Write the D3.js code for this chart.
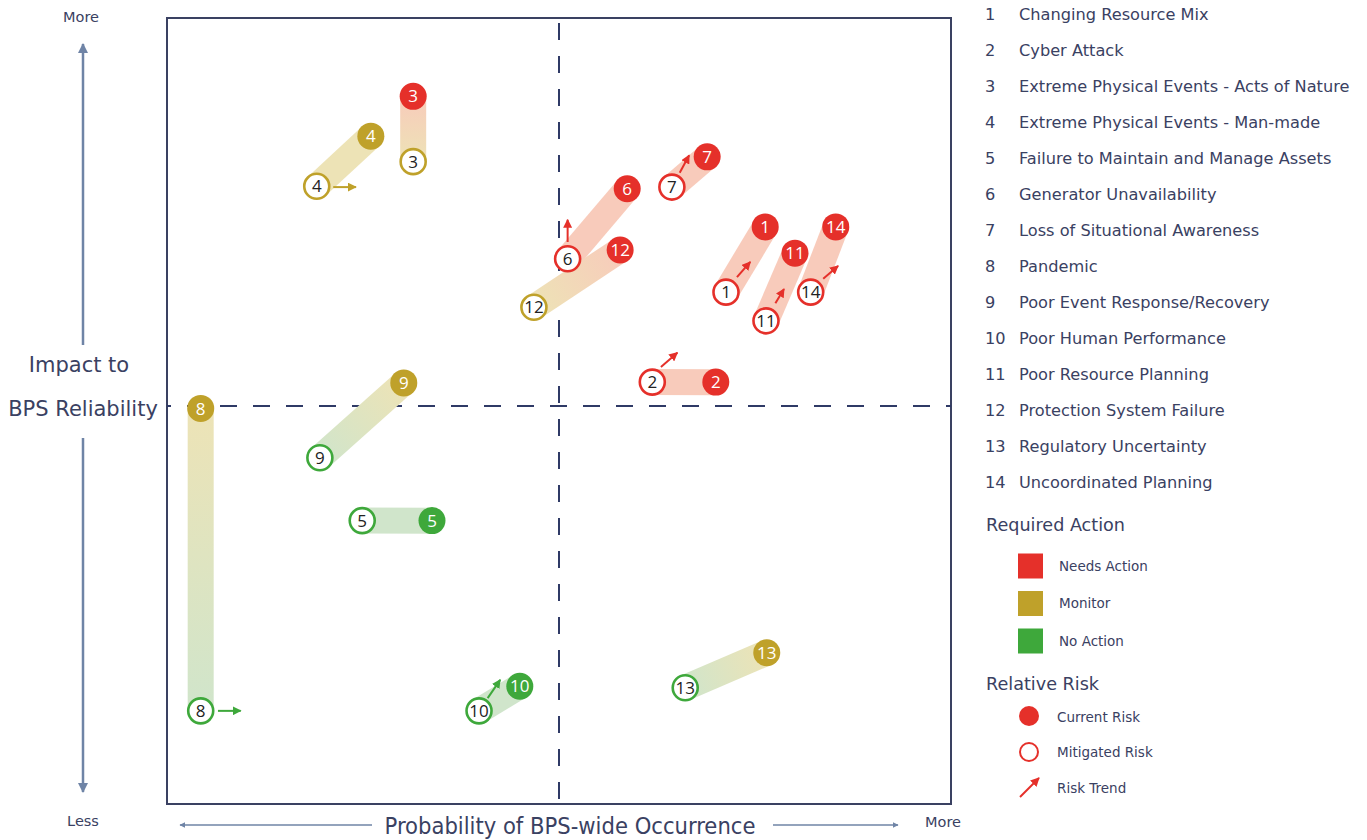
<!DOCTYPE html>
<html><head><meta charset="utf-8">
<script src="https://cdn.jsdelivr.net/npm/d3@7"></script>
<style>body{margin:0;background:#fff}svg{display:block}</style>
</head><body>
<svg id="c" width="1367" height="840"></svg>
<script>
// ---- data ----
const ids = [1,2,3,4,5,6,7,8,9,10,11,12,13,14];
const names = ["Changing Resource Mix","Cyber Attack","Extreme Physical Events - Acts of Nature","Extreme Physical Events - Man-made","Failure to Maintain and Manage Assets","Generator Unavailability","Loss of Situational Awareness","Pandemic","Poor Event Response/Recovery","Poor Human Performance","Poor Resource Planning","Protection System Failure","Regulatory Uncertainty","Uncoordinated Planning"];
const curX = [7.63,7.00,3.14,2.60,3.38,5.87,6.89,0.43,3.02,4.50,8.01,5.78,7.65,8.53];
const curY = [7.25,5.30,8.89,8.39,3.56,7.73,8.13,4.97,5.29,1.48,6.92,6.96,1.90,7.25];
const mitX = [7.13,6.19,3.14,1.91,2.49,5.11,6.44,0.43,1.95,3.98,7.64,4.68,6.61,8.21];
const mitY = [6.43,5.30,8.07,7.76,3.56,6.85,7.75,1.17,4.35,1.17,6.07,6.24,1.46,6.43];
const curAction = ["N","N","N","M","A","N","N","M","M","A","N","N","M","N"];
const mitAction = ["N","N","M","M","A","N","N","A","A","A","N","M","A","N"];
const trendX0 = [7.27,6.30,null,2.12,null,5.11,6.54,0.65,null,4.09,7.76,null,null,8.37];
const trendY0 = [6.62,5.49,null,7.75,null,7.06,7.93,1.17,null,1.33,6.29,null,null,6.60];
const trendX1 = [7.44,6.51,null,2.41,null,5.11,6.66,0.94,null,4.25,7.87,null,null,8.56];
const trendY1 = [6.81,5.67,null,7.75,null,7.34,8.15,1.17,null,1.56,6.47,null,null,6.76];
const actionKeys = ["N","M","A"];
const actionLabels = ["Needs Action","Monitor","No Action"];
const riskLabels = ["Current Risk","Mitigated Risk","Risk Trend"];

// ---- styles ----
const col = {N:"#e5302a", M:"#bfa12a", A:"#3ea83b"};
const light = {N:"#f8cbbb", M:"#ede3b6", A:"#d0e5cb"};
const navy = "#3a4162";
const slate = "#6f84a6";
const svg = d3.select("#c");
const font = "DejaVu Sans, Verdana, sans-serif";

const x = d3.scaleLinear().domain([0,10]).range([167,951]);
const y = d3.scaleLinear().domain([0,10]).range([804,8]);
const frameTop = 18;

const defs = svg.append("defs");
["N","M","A"].forEach(k=>{
  defs.append("marker").attr("id","ah"+k).attr("viewBox","0 0 10 10").attr("refX",9).attr("refY",5)
    .attr("markerWidth",4.5).attr("markerHeight",4.5).attr("orient","auto")
    .append("path").attr("d","M0,0L10,5L0,10z").attr("fill",col[k]);
});
defs.append("marker").attr("id","ahS").attr("viewBox","0 0 10 10").attr("refX",9).attr("refY",5)
  .attr("markerWidth",4).attr("markerHeight",4).attr("orient","auto")
  .append("path").attr("d","M0,0L10,5L0,10z").attr("fill",slate);

// frame
svg.append("rect").attr("x",x(0)).attr("y",frameTop).attr("width",x(10)-x(0)).attr("height",y(0)-frameTop)
  .attr("fill","none").attr("stroke",navy).attr("stroke-width",2);
// quadrant lines
svg.append("line").attr("x1",x(5)).attr("x2",x(5)).attr("y1",frameTop+5).attr("y2",y(0))
  .attr("stroke","#2f3a66").attr("stroke-width",2).attr("stroke-dasharray","17,16");
svg.append("line").attr("x1",x(0)).attr("x2",x(10)).attr("y1",y(5)).attr("y2",y(5))
  .attr("stroke","#2f3a66").attr("stroke-width",2).attr("stroke-dasharray","17,16").attr("stroke-dashoffset",-20);

// axis annotations
const ax = 83;
svg.append("line").attr("x1",ax).attr("x2",ax).attr("y1",345).attr("y2",44).attr("stroke",slate).attr("stroke-width",2.5).attr("marker-end","url(#ahS)");
svg.append("line").attr("x1",ax).attr("x2",ax).attr("y1",438).attr("y2",792).attr("stroke",slate).attr("stroke-width",2.5).attr("marker-end","url(#ahS)");
svg.append("text").attr("x",81).attr("y",22).attr("text-anchor","middle").attr("font-family",font).attr("font-size",14.5).attr("fill",navy).text("More");
svg.append("text").attr("x",83).attr("y",826).attr("text-anchor","middle").attr("font-family",font).attr("font-size",14.5).attr("fill",navy).text("Less");
svg.append("text").attr("x",79).attr("y",372).attr("text-anchor","middle").attr("font-family",font).attr("font-size",21).attr("fill",navy).text("Impact to");
svg.append("text").attr("x",83).attr("y",416).attr("text-anchor","middle").attr("font-family",font).attr("font-size",21).attr("fill",navy).text("BPS Reliability");
svg.append("line").attr("x1",372).attr("x2",180).attr("y1",825).attr("y2",825).attr("stroke",slate).attr("stroke-width",1.5).attr("marker-end","url(#ahS)");
svg.append("line").attr("x1",773).attr("x2",898).attr("y1",825).attr("y2",825).attr("stroke",slate).attr("stroke-width",1.5).attr("marker-end","url(#ahS)");
svg.append("text").attr("x",570).attr("y",834).attr("text-anchor","middle").attr("font-family","DejaVu Sans Condensed, "+font).attr("font-size",23.5).attr("fill",navy).text("Probability of BPS-wide Occurrence");
svg.append("text").attr("x",943).attr("y",827).attr("text-anchor","middle").attr("font-family",font).attr("font-size",14.5).attr("fill",navy).text("More");

// bands with gradients
const idx = d3.range(ids.length);
idx.forEach(i=>{
  const g = defs.append("linearGradient").attr("id","g"+i).attr("gradientUnits","userSpaceOnUse")
    .attr("x1",x(mitX[i])).attr("y1",y(mitY[i])).attr("x2",x(curX[i])).attr("y2",y(curY[i]));
  g.append("stop").attr("offset","0").attr("stop-color",light[mitAction[i]]);
  g.append("stop").attr("offset","1").attr("stop-color",light[curAction[i]]);
});
svg.append("g").selectAll("line").data(idx).join("line")
  .attr("x1",i=>x(mitX[i])).attr("y1",i=>y(mitY[i]))
  .attr("x2",i=>x(curX[i])+(mitX[i]===curX[i]?0.01:0)).attr("y2",i=>y(curY[i])+(mitY[i]===curY[i]?0.01:0))
  .attr("stroke",i=>"url(#g"+i+")").attr("stroke-width",26);

// trend arrows
const tIdx = idx.filter(i=>trendX0[i]!==null);
svg.append("g").selectAll("line").data(tIdx).join("line")
  .attr("x1",i=>x(trendX0[i])).attr("y1",i=>y(trendY0[i])).attr("x2",i=>x(trendX1[i])).attr("y2",i=>y(trendY1[i]))
  .attr("stroke",i=>col[mitAction[i]]).attr("stroke-width",2).attr("marker-end",i=>"url(#ah"+mitAction[i]+")");

// mitigated circles
const mg = svg.append("g").selectAll("g").data(idx).join("g").attr("transform",i=>`translate(${x(mitX[i])},${y(mitY[i])})`);
mg.append("circle").attr("r",12.5).attr("fill","#fff").attr("stroke",i=>col[mitAction[i]]).attr("stroke-width",2.6);
mg.append("text").attr("text-anchor","middle").attr("dy","0.36em").attr("font-family","Open Sans, sans-serif").attr("font-size",17).attr("fill","#222").text(i=>ids[i]);
// current circles
const cg = svg.append("g").selectAll("g").data(idx).join("g").attr("transform",i=>`translate(${x(curX[i])},${y(curY[i])})`);
cg.append("circle").attr("r",13.5).attr("fill",i=>col[curAction[i]]);
cg.append("text").attr("text-anchor","middle").attr("dy","0.36em").attr("font-family","Open Sans, sans-serif").attr("font-size",17).attr("fill","#fff").text(i=>ids[i]);

// legend list
const lg = svg.append("g").selectAll("g").data(idx).join("g").attr("transform",i=>`translate(0,${14+i*36})`);
lg.append("text").attr("x",985).attr("dy","0.35em").attr("font-family",font).attr("font-size",16.2).attr("fill",navy).text(i=>ids[i]);
lg.append("text").attr("x",1019).attr("dy","0.35em").attr("font-family",font).attr("font-size",16.2).attr("fill",navy).text(i=>names[i]);

// required action legend
svg.append("text").attr("x",986).attr("y",525).attr("dy","0.35em").attr("font-family",font).attr("font-size",17.6).attr("fill",navy).text("Required Action");
const ra = svg.append("g").selectAll("g").data(actionKeys).join("g").attr("transform",(d,i)=>`translate(0,${566+i*37.5})`);
ra.append("rect").attr("x",1018).attr("y",-12.5).attr("width",25).attr("height",25).attr("fill",d=>col[d]);
ra.append("text").attr("x",1059).attr("dy","0.35em").attr("font-family",font).attr("font-size",13.5).attr("fill",navy).text((d,i)=>actionLabels[i]);

svg.append("text").attr("x",986).attr("y",684).attr("dy","0.35em").attr("font-family",font).attr("font-size",17.6).attr("fill",navy).text("Relative Risk");
svg.append("circle").attr("cx",1029).attr("cy",716).attr("r",10).attr("fill",col.N);
svg.append("circle").attr("cx",1029).attr("cy",752).attr("r",9).attr("fill","#fff").attr("stroke",col.N).attr("stroke-width",2);
svg.append("line").attr("x1",1020).attr("y1",797).attr("x2",1039).attr("y2",778).attr("stroke",col.N).attr("stroke-width",2).attr("marker-end","url(#ahN)");
svg.append("g").selectAll("text").data(riskLabels).join("text").attr("x",1057).attr("y",(d,i)=>717+i*35.5).attr("dy","0.35em")
  .attr("font-family",font).attr("font-size",13.5).attr("fill",navy).text(d=>d);
</script>
</body></html>
